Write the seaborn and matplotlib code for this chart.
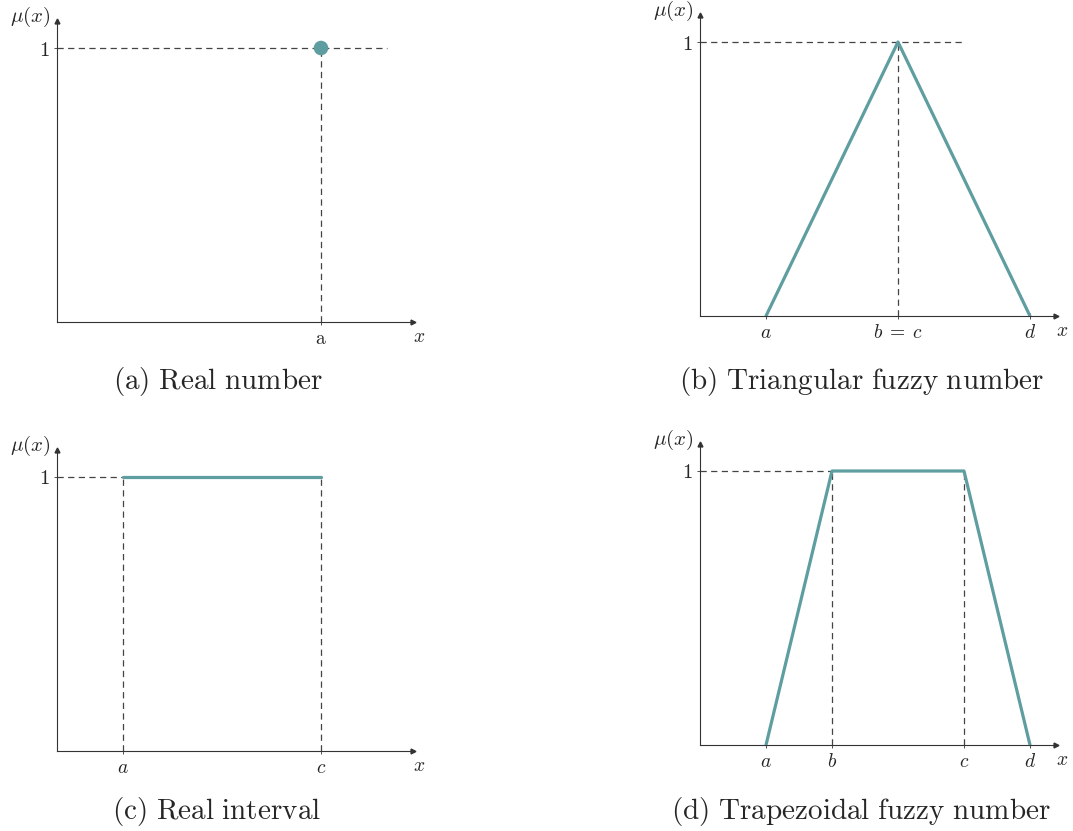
import matplotlib
matplotlib.use("Agg")
import matplotlib.pyplot as plt
import seaborn as sns
import pandas as pd

sns.set_theme(style="white")
plt.rcParams["font.family"] = ["DejaVu Serif"]
plt.rcParams["mathtext.fontset"] = "cm"

TEAL = "#5f9ea0"
AXC = "#333333"
DASHC = "#444444"

# ---- data ----
real_x = [4]
real_y = [1]
real_ticks = [4]
real_ticklabels = [r"$\mathrm{a}$"]

tri_x = [1, 3, 5]
tri_y = [0, 1, 0]
tri_ticks = [1, 3, 5]
tri_ticklabels = [r"$a$", r"$b\;=\;c$", r"$d$"]

int_x = [1, 4]
int_y = [1, 1]
int_ticks = [1, 4]
int_ticklabels = [r"$a$", r"$c$"]

trap_x = [1, 2, 4, 5]
trap_y = [0, 1, 1, 0]
trap_ticks = [1, 2, 4, 5]
trap_ticklabels = [r"$a$", r"$b$", r"$c$", r"$d$"]

captions = [r"$\mathrm{(a)\ Real\ number}$",
            r"$\mathrm{(b)\ Triangular\ fuzzy\ number}$",
            r"$\mathrm{(c)\ Real\ interval}$",
            r"$\mathrm{(d)\ Trapezoidal\ fuzzy\ number}$"]

W, H = 1073, 831
fig = plt.figure(figsize=(W / 100, H / 100), dpi=100)
XMAX = 5.4


def make_ax(left_px, axis_y_px):
    w = XMAX * 66
    h = 1.1 * 274
    return fig.add_axes([left_px / W, (H - axis_y_px) / H, w / W, h / H])


def style(ax, ticks, ticklabels):
    ax.set_xlim(0, XMAX)
    ax.set_ylim(0, 1.1)
    for s in ["top", "right"]:
        ax.spines[s].set_visible(False)
    for s in ["left", "bottom"]:
        ax.spines[s].set_color(AXC)
        ax.spines[s].set_linewidth(0.8)
    ax.plot(1, 0, marker=">", color=AXC, markersize=3.5,
            transform=ax.transAxes, clip_on=False)
    ax.plot(0, 1, marker="^", color=AXC, markersize=3.5,
            transform=ax.transAxes, clip_on=False)
    ax.set_xticks(ticks)
    ax.set_xticklabels(ticklabels, fontsize=14)
    ax.set_yticks([1])
    ax.set_yticklabels([r"$1$"], fontsize=15)
    ax.tick_params(axis="both", direction="inout", length=5, width=0.6,
                   color=AXC, pad=3, bottom=True, left=True)
    ax.set_xlabel("")
    ax.set_ylabel("")
    ax.text(-0.41, 1.113, r"$\mu(x)$", fontsize=15, ha="center", va="center",
            clip_on=False)
    ax.text(5.48, -0.055, r"$x$", fontsize=14, ha="center", va="center",
            clip_on=False)


def dash(ax, xs, ys):
    ax.plot(xs, ys, color=DASHC, lw=0.9, dashes=(5, 3.5), zorder=1)


# (a) Real number
ax = make_ax(57, 322)
style(ax, real_ticks, real_ticklabels)
dash(ax, [0, 5], [1, 1])
dash(ax, [4, 4], [0, 1])
sns.scatterplot(data=pd.DataFrame({"x": real_x, "y": real_y}), x="x", y="y",
                ax=ax, color=TEAL, s=110, edgecolor="none", zorder=3,
                clip_on=False)
ax.set_xlabel(""); ax.set_ylabel("")

# (b) Triangular
ax = make_ax(700, 316)
style(ax, tri_ticks, tri_ticklabels)
dash(ax, [0, 4], [1, 1])
dash(ax, [3, 3], [0, 1])
sns.lineplot(data=pd.DataFrame({"x": tri_x, "y": tri_y}), x="x", y="y",
             ax=ax, color=TEAL, lw=2.3, sort=False, estimator=None, zorder=3)
ax.set_xlabel(""); ax.set_ylabel("")

# (c) Real interval
ax = make_ax(57, 751)
style(ax, int_ticks, int_ticklabels)
dash(ax, [0, 1], [1, 1])
dash(ax, [1, 1], [0, 1])
dash(ax, [4, 4], [0, 1])
sns.lineplot(data=pd.DataFrame({"x": int_x, "y": int_y}), x="x", y="y",
             ax=ax, color=TEAL, lw=2.3, sort=False, estimator=None, zorder=3)
ax.set_xlabel(""); ax.set_ylabel("")

# (d) Trapezoidal
ax = make_ax(700, 745)
style(ax, trap_ticks, trap_ticklabels)
dash(ax, [0, 2], [1, 1])
dash(ax, [2, 2], [0, 1])
dash(ax, [4, 4], [0, 1])
sns.lineplot(data=pd.DataFrame({"x": trap_x, "y": trap_y}), x="x", y="y",
             ax=ax, color=TEAL, lw=2.3, sort=False, estimator=None, zorder=3)
ax.set_xlabel(""); ax.set_ylabel("")

# captions
cap_pos = [(218, 389), (862, 389), (217, 819), (861, 819)]
for (cx, cy), txt in zip(cap_pos, captions):
    fig.text(cx / W, (H - cy) / H, txt, fontsize=21, ha="center",
             va="baseline")

fig.savefig("out.png", dpi=100)
